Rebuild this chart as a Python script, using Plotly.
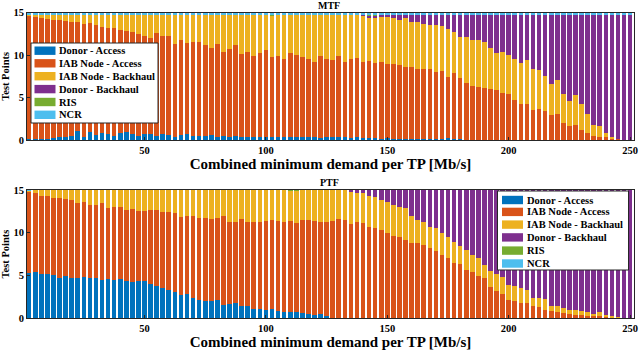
import plotly.graph_objects as go

# Combined minimum demand per TP [Mb/s] (bar positions)
demand = [2.5 * k for k in range(1, 101)]
tick_vals = [50, 100, 150, 200, 250]

series_names = ["Donor - Access", "IAB Node - Access", "IAB Node - Backhaul",
                "Donor - Backhaul", "RIS", "NCR"]
series_colors = ["#0072BD", "#D95319", "#EDB120", "#7E2F8E", "#77AC30", "#4DBEEE"]

# ---------------- MTF ----------------
mtf_donor_access = [
    0.1, 0.1, 0.1, 0.1, 0.25, 0.3, 0.3, 0.45, 1.05, 0.4,
    0.95, 0.6, 0.85, 0.75, 0.45, 0.8, 0.95, 0.75, 0.5, 0.7,
    0.7, 0.5, 0.7, 0.55, 0.4, 0.6, 0.75, 0.45, 0.5, 0.5,
    0.55, 0.4, 0.5, 0.3, 0.45, 0.4, 0.3, 0.35, 0.35, 0.4,
    0.4, 0.35, 0.3, 0.35, 0.4, 0.3, 0.35, 0.4, 0.25, 0.3,
    0.35, 0.3, 0.3, 0.25, 0.35, 0.2, 0.25, 0.2, 0.15, 0.2,
    0.15, 0.15, 0.1, 0.1, 0.1, 0.1, 0.1, 0.1, 0.1, 0.2,
    0.1, 0.1, 0.05, 0.05, 0.05, 0.05, 0.05, 0.05, 0.05, 0.05,
    0.05, 0.05, 0.05, 0.05, 0.05, 0.05, 0.05, 0.05, 0, 0,
    0, 0, 0, 0, 0, 0, 0, 0, 0, 0]
mtf_iab_access = [
    14.6, 14.5, 14.3, 14.2, 13.85, 13.8, 13.7, 13.45, 12.85, 13.3,
    12.85, 12.9, 12.45, 12.45, 12.75, 12.2, 11.85, 11.95, 12.0, 11.6,
    11.3, 12.1, 11.5, 11.65, 10.9, 11.2, 10.65, 11.05, 11.1, 10.7,
    10.35, 10.9, 9.9, 10.4, 10.75, 9.7, 10.1, 9.55, 9.95, 10.2,
    9.4, 9.55, 9.3, 9.85, 9.6, 9.5, 9.25, 8.8, 9.65, 9.3,
    9.05, 9.6, 8.9, 9.35, 9.35, 9.0, 9.05, 8.9, 9.05, 8.8,
    8.75, 8.65, 8.5, 8.5, 8.3, 8.25, 8.3, 7.9, 8.05, 7.2,
    7.8, 7.15, 6.65, 6.3, 6.15, 6.05, 5.95, 5.9, 5.45, 5.35,
    4.65, 4.25, 4.25, 3.45, 3.65, 3.4, 2.85, 3.0, 2.0, 1.65,
    1.75, 1.2, 0.85, 0.5, 0.4, 0.3, 0.2, 0.1, 0, 0]
mtf_iab_backhaul = [
    0.05, 0.15, 0.35, 0.45, 0.65, 0.65, 0.75, 0.85, 0.85, 1.05,
    0.95, 1.25, 1.45, 1.55, 1.55, 1.75, 1.95, 2.05, 2.25, 2.45,
    2.75, 2.15, 2.55, 2.55, 3.45, 2.95, 3.35, 3.25, 3.15, 3.55,
    3.85, 3.45, 4.35, 4.05, 3.55, 4.65, 4.35, 4.85, 4.45, 4.15,
    4.85, 4.85, 5.15, 4.55, 4.75, 4.95, 5.15, 5.55, 4.85, 5.15,
    5.35, 4.85, 5.55, 5.15, 5.05, 5.45, 5.2, 5.35, 5.4, 5.45,
    5.5, 5.35, 5.75, 5.25, 5.5, 5.35, 5.2, 5.5, 5.25, 5.7,
    4.8, 4.85, 5.4, 5.45, 5.6, 5.5, 4.8, 4.35, 4.9, 4.6,
    4.9, 4.8, 5.1, 4.9, 4.5, 4.05, 3.7, 4.05, 3.4, 2.95,
    3.55, 3.0, 2.25, 1.25, 1.25, 0.5, 0.1, 0, 0, 0]
mtf_donor_backhaul = [
    0, 0, 0, 0, 0, 0, 0, 0, 0, 0,
    0, 0, 0, 0, 0, 0, 0, 0, 0, 0,
    0, 0, 0, 0, 0, 0, 0, 0, 0, 0,
    0, 0, 0, 0, 0, 0, 0, 0, 0, 0,
    0, 0, 0, 0, 0, 0, 0, 0, 0, 0,
    0, 0, 0, 0, 0, 0.1, 0.15, 0.2, 0.15, 0.3,
    0.35, 0.6, 0.4, 0.9, 0.85, 1.05, 1.15, 1.25, 1.35, 1.65,
    2.05, 2.65, 2.65, 2.95, 2.95, 3.15, 3.95, 4.45, 4.35, 4.75,
    5.15, 5.65, 5.35, 6.35, 6.55, 7.25, 8.15, 7.65, 9.35, 10.15,
    9.45, 10.55, 11.65, 13.0, 13.1, 13.95, 14.45, 14.65, 14.75, 14.75]
mtf_ris = [
    0, 0, 0, 0, 0, 0, 0, 0, 0, 0,
    0, 0, 0, 0, 0, 0, 0, 0, 0, 0,
    0, 0, 0, 0, 0, 0, 0, 0, 0, 0,
    0, 0, 0, 0, 0, 0, 0, 0, 0, 0,
    0.1, 0, 0, 0, 0, 0, 0, 0, 0, 0,
    0, 0, 0, 0, 0, 0, 0.1, 0.1, 0, 0,
    0, 0, 0, 0, 0, 0, 0, 0, 0, 0,
    0, 0, 0, 0, 0, 0, 0, 0, 0, 0,
    0, 0, 0, 0, 0, 0, 0, 0, 0, 0,
    0, 0, 0, 0, 0, 0, 0, 0, 0, 0]
mtf_ncr = [
    0.25, 0.25, 0.25, 0.25, 0.25, 0.25, 0.25, 0.25, 0.25, 0.25,
    0.25, 0.25, 0.25, 0.25, 0.25, 0.25, 0.25, 0.25, 0.25, 0.25,
    0.25, 0.25, 0.25, 0.25, 0.25, 0.25, 0.25, 0.25, 0.25, 0.25,
    0.25, 0.25, 0.25, 0.25, 0.25, 0.25, 0.25, 0.25, 0.25, 0.25,
    0.25, 0.25, 0.25, 0.25, 0.25, 0.25, 0.25, 0.25, 0.25, 0.25,
    0.25, 0.25, 0.25, 0.25, 0.25, 0.25, 0.25, 0.25, 0.25, 0.25,
    0.25, 0.25, 0.25, 0.25, 0.25, 0.25, 0.25, 0.25, 0.25, 0.25,
    0.25, 0.25, 0.25, 0.25, 0.25, 0.25, 0.25, 0.25, 0.25, 0.25,
    0.25, 0.25, 0.25, 0.25, 0.25, 0.25, 0.25, 0.25, 0.25, 0.25,
    0.25, 0.25, 0.25, 0.25, 0.25, 0.25, 0.25, 0.25, 0.25, 0.25]

# ---------------- PTF ----------------
ptf_donor_access = [
    5.25, 5.4, 5.15, 5.2, 5.0, 4.7, 4.9, 4.7, 4.7, 4.75,
    4.65, 4.7, 4.5, 4.6, 4.45, 4.55, 4.35, 4.2, 4.3, 4.35,
    4.0, 3.7, 3.5, 3.3, 3.1, 2.65, 2.8, 2.4, 2.15, 2.05,
    1.95, 2.1, 1.55, 1.65, 1.7, 1.35, 1.35, 1.1, 1.0, 0.95,
    1.0, 0.85, 0.7, 0.65, 0.65, 0.6, 0.45, 0.4, 0.45, 0.2,
    0.05, 0, 0, 0, 0, 0, 0, 0, 0, 0,
    0, 0, 0, 0, 0, 0, 0, 0, 0, 0,
    0, 0, 0, 0, 0, 0, 0, 0, 0, 0,
    0, 0, 0, 0, 0, 0, 0, 0, 0, 0,
    0, 0, 0, 0, 0, 0, 0, 0, 0, 0]
ptf_iab_access = [
    9.55, 9.2, 9.15, 9.1, 9.1, 9.4, 9.05, 9.1, 8.75, 8.85,
    8.65, 8.55, 8.95, 8.25, 8.5, 8.5, 8.25, 8.55, 8.25, 8.2,
    8.6, 8.95, 8.9, 9.15, 9.25, 9.15, 9.1, 9.5, 9.6, 9.65,
    9.65, 9.6, 10.35, 9.55, 9.5, 10.25, 9.95, 10.2, 10.3, 10.45,
    10.5, 10.55, 10.6, 10.75, 10.45, 10.9, 11.05, 11.0, 10.85, 11.0,
    11.35, 11.6, 11.5, 11.0, 11.3, 11.1, 10.7, 10.5, 10.3, 9.95,
    9.65, 9.55, 9.15, 8.75, 8.75, 8.55, 8.2, 7.85, 7.4, 7.0,
    6.45, 6.3, 5.65, 5.4, 4.95, 4.7, 3.6, 3.2, 2.8, 2.15,
    2.0, 1.75, 1.75, 1.35, 1.25, 0.95, 0.8, 0.7, 0.6, 0.45,
    0.4, 0.3, 0.25, 0.2, 0.2, 0.15, 0.1, 0.05, 0, 0]
ptf_iab_backhaul = [
    0.1, 0.4, 0.7, 0.7, 0.9, 0.9, 1.05, 1.2, 1.55, 1.4,
    1.7, 1.75, 1.55, 2.15, 2.05, 1.95, 2.4, 2.25, 2.45, 2.45,
    2.4, 2.35, 2.6, 2.55, 2.65, 3.2, 3.1, 3.1, 3.25, 3.3,
    3.4, 3.3, 3.1, 3.8, 3.8, 3.4, 3.7, 3.7, 3.7, 3.6,
    3.5, 3.6, 3.7, 3.5, 3.8, 3.5, 3.5, 3.6, 3.7, 3.8,
    3.6, 3.4, 3.5, 3.75, 3.3, 3.5, 3.65, 3.7, 3.55, 3.6,
    3.65, 3.5, 3.7, 3.15, 2.75, 2.75, 2.5, 2.65, 2.55, 2.55,
    2.5, 2.1, 2.35, 2.0, 2.05, 1.55, 1.85, 1.95, 2.05, 1.75,
    1.7, 1.75, 1.55, 1.05, 1.1, 1.3, 0.55, 0.65, 0.55, 0.5,
    0.55, 0.5, 0.4, 0.25, 0.5, 0.25, 0.15, 0.05, 0, 0]
ptf_donor_backhaul = [
    0, 0, 0, 0, 0, 0, 0, 0, 0, 0,
    0, 0, 0, 0, 0, 0, 0, 0, 0, 0,
    0, 0, 0, 0, 0, 0, 0, 0, 0, 0,
    0, 0, 0, 0, 0, 0, 0, 0, 0, 0,
    0, 0, 0, 0, 0, 0, 0, 0, 0, 0,
    0, 0, 0, 0.25, 0.4, 0.4, 0.65, 0.8, 1.15, 1.45,
    1.7, 1.95, 2.15, 3.1, 3.5, 3.7, 4.3, 4.5, 5.05, 5.45,
    6.05, 6.6, 7.0, 7.6, 8.0, 8.75, 9.55, 9.85, 10.15, 11.1,
    11.3, 11.5, 11.7, 12.6, 12.65, 12.75, 13.65, 13.65, 13.85, 14.05,
    14.05, 14.2, 14.35, 14.55, 14.3, 14.6, 14.75, 14.9, 15.0, 15.0]
ptf_ris = [
    0.05, 0, 0, 0, 0, 0, 0, 0, 0, 0,
    0, 0, 0, 0, 0, 0, 0, 0, 0, 0,
    0, 0, 0, 0, 0, 0, 0, 0, 0, 0,
    0, 0, 0, 0, 0, 0, 0, 0, 0, 0,
    0, 0, 0, 0.1, 0.1, 0, 0, 0, 0, 0,
    0, 0, 0, 0, 0, 0, 0, 0, 0, 0,
    0, 0, 0, 0, 0, 0, 0, 0, 0, 0,
    0, 0, 0, 0, 0, 0, 0, 0, 0, 0,
    0, 0, 0, 0, 0, 0, 0, 0, 0, 0,
    0, 0, 0, 0, 0, 0, 0, 0, 0, 0]
ptf_ncr = [
    0.05, 0, 0, 0, 0, 0, 0, 0, 0, 0,
    0, 0, 0, 0, 0, 0, 0, 0, 0, 0,
    0, 0, 0, 0, 0, 0, 0, 0, 0, 0,
    0, 0, 0, 0, 0, 0, 0, 0, 0, 0,
    0, 0, 0, 0, 0, 0, 0, 0, 0, 0,
    0, 0, 0, 0, 0, 0, 0, 0, 0, 0,
    0, 0, 0, 0, 0, 0, 0, 0, 0, 0,
    0, 0, 0, 0, 0, 0, 0, 0, 0, 0,
    0, 0, 0, 0, 0, 0, 0, 0, 0, 0,
    0, 0, 0, 0, 0, 0, 0, 0, 0, 0]

mtf_series = [mtf_donor_access, mtf_iab_access, mtf_iab_backhaul,
              mtf_donor_backhaul, mtf_ris, mtf_ncr]
ptf_series = [ptf_donor_access, ptf_iab_access, ptf_iab_backhaul,
              ptf_donor_backhaul, ptf_ris, ptf_ncr]

FONT = "Liberation Serif"
AX = "#262626"
W, H = 640, 354
ML, MR = 27, 6
PW = W - ML - MR


def px_x(px):
    return (px - ML) / PW


def px_y(py):
    return 1 - py / H


fig = go.Figure()
for series, xa, ya in [(mtf_series, "x", "y"), (ptf_series, "x2", "y2")]:
    for name, vals, col in zip(series_names, series, series_colors):
        fig.add_trace(go.Bar(
            x=demand, y=vals, name=name, xaxis=xa, yaxis=ya, showlegend=False,
            marker=dict(color=col, line=dict(width=0)),
        ))

xcommon = dict(range=[1.6, 251.6], tickvals=tick_vals, ticks="inside", ticklen=3,
               tickcolor=AX, showline=True, linecolor=AX, linewidth=1, mirror=True,
               showgrid=False, zeroline=False, automargin=False,
               tickfont=dict(family=FONT, size=10.5, color="black", weight="bold"),
               title=dict(text="Combined minimum demand per TP [Mb/s]", standoff=2,
                          font=dict(family=FONT, size=15, color="black", weight="bold")))
ycommon = dict(range=[0, 15], tickvals=[0, 5, 10, 15], ticks="inside", ticklen=3,
               tickcolor=AX, showline=True, linecolor=AX, linewidth=1, mirror=True,
               showgrid=False, zeroline=False, automargin=False,
               tickfont=dict(family=FONT, size=10.5, color="black", weight="bold"),
               title=dict(text="Test Points", standoff=2,
                          font=dict(family=FONT, size=10.5, color="black", weight="bold")))

# Legend boxes (drawn in paper coordinates, MATLAB style)
shapes = []
annotations = []
legend_specs = [
    # box left, box right, box top, box bottom, swatch left, swatch right, text x, row centers
    (31, 158, 43, 123, 34.5, 55.5, 57, [50.7, 63.3, 76.2, 89.1, 102.0, 114.8]),
    (497.5, 628.5, 191, 270, 502, 523, 524.5, [200.0, 211.9, 224.6, 237.4, 250.6, 263.5]),
]
for bl, br, bt, bb, sl, sr, tx, rows in legend_specs:
    shapes.append(dict(type="rect", xref="paper", yref="paper",
                       x0=px_x(bl), x1=px_x(br), y0=px_y(bb), y1=px_y(bt),
                       fillcolor="white", line=dict(color="#262626", width=1)))
    for name, col, yc in zip(series_names, series_colors, rows):
        shapes.append(dict(type="rect", xref="paper", yref="paper",
                           x0=px_x(sl), x1=px_x(sr), y0=px_y(yc + 4.2), y1=px_y(yc - 4.2),
                           fillcolor=col, line=dict(width=0)))
        annotations.append(dict(text=name, x=px_x(tx), y=px_y(yc), xref="paper", yref="paper",
                                xanchor="left", yanchor="middle", showarrow=False,
                                font=dict(family=FONT, size=10.5, color="black", weight="bold")))

annotations += [
    dict(text="MTF", x=px_x(329), y=px_y(5), xref="paper", yref="paper",
         showarrow=False, yanchor="middle",
         font=dict(family=FONT, size=10, color="black", weight="bold")),
    dict(text="PTF", x=px_x(329), y=px_y(183), xref="paper", yref="paper",
         showarrow=False, yanchor="middle",
         font=dict(family=FONT, size=10, color="black", weight="bold")),
]

fig.update_layout(
    width=W, height=H,
    margin=dict(l=ML, r=MR, t=0, b=0),
    paper_bgcolor="white", plot_bgcolor="white",
    barmode="stack", bargap=0.24,
    showlegend=False,
    xaxis=dict(domain=[0, 1], anchor="y", **xcommon),
    yaxis=dict(domain=[px_y(140), px_y(12.7)], anchor="x", **ycommon),
    xaxis2=dict(domain=[0, 1], anchor="y2", **xcommon),
    yaxis2=dict(domain=[px_y(318), px_y(190)], anchor="x2", **ycommon),
    shapes=shapes,
    annotations=annotations,
)

fig.write_html("out.html", config={"displayModeBar": False},
               post_script="document.body.style.margin='0';document.body.style.padding='0';")
